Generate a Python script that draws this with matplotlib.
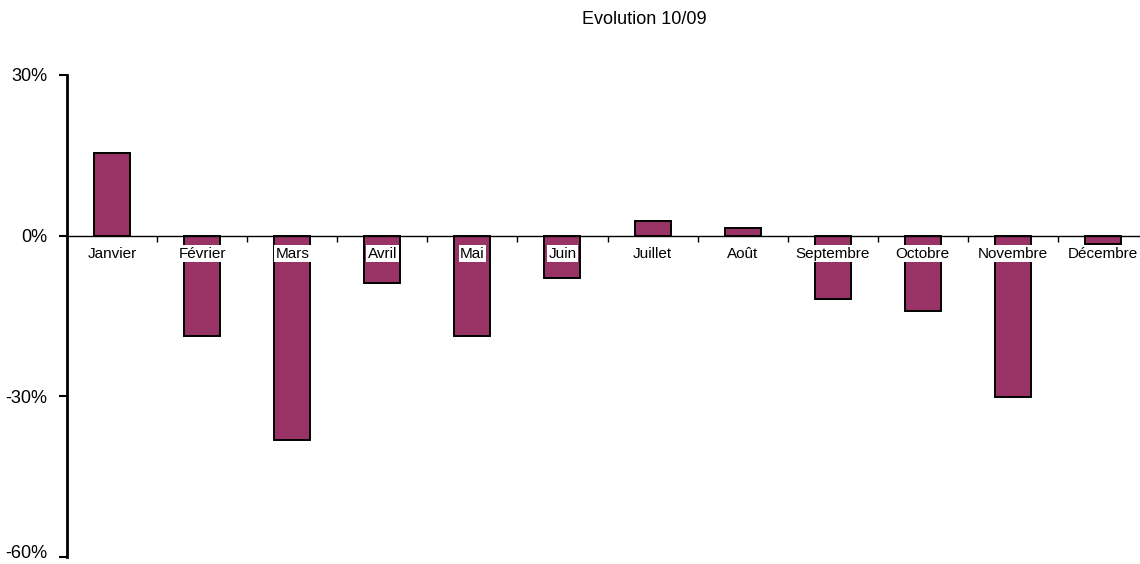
import matplotlib
matplotlib.use("Agg")
import matplotlib.pyplot as plt
import matplotlib.transforms as mtransforms
from matplotlib.ticker import FixedLocator, PercentFormatter

# ── Data ──────────────────────────────────────────────────────────────────────

months = ["Janvier", "Février", "Mars", "Avril", "Mai", "Juin",
          "Juillet", "Août", "Septembre", "Octobre", "Novembre", "Décembre"]
evolution = [15.4, -18.7, -38.1, -8.9, -18.7, -7.9,
             2.8, 1.4, -11.8, -14.0, -30.2, -1.5]
y_ticks = [30, 0, -30, -60]

BAR_COLOR = "#993366"

plt.rcParams["font.family"] = ["Liberation Sans", "DejaVu Sans"]
plt.rcParams["axes.unicode_minus"] = False

# ── Plot ──────────────────────────────────────────────────────────────────────

W, H = 1140, 564
fig = plt.figure(figsize=(W / 100, H / 100), dpi=100)
left, right = 67 / W, 1148 / W
top, bottom = 1 - 75 / H, 1 - 557 / H
ax = fig.add_axes([left, bottom, right - left, top - bottom])

x = list(range(len(months)))
ax.bar(x, evolution, width=0.40, color=BAR_COLOR,
       edgecolor="black", linewidth=1.4, zorder=2)

ax.set_xlim(-0.5, len(months) - 0.5)
ax.set_ylim(-60, 30)

# y axis
ax.yaxis.set_major_locator(FixedLocator(y_ticks))
ax.yaxis.set_major_formatter(PercentFormatter(decimals=0))
ax.tick_params(axis="y", direction="out", length=6, width=1.5,
               labelsize=13, pad=8)
ax.spines["left"].set_linewidth(2)

# keep the lowest label inside the picture
fig.canvas.draw()
lowest = ax.get_yticklabels()[-1]
lowest.set_transform(lowest.get_transform() +
                     mtransforms.ScaledTranslation(0, 4 / 72, fig.dpi_scale_trans))

# x axis sits on the zero line, ticks between categories
ax.spines["bottom"].set_position(("data", 0))
ax.spines["bottom"].set_linewidth(1)
for side in ("top", "right"):
    ax.spines[side].set_visible(False)
ax.xaxis.set_major_locator(FixedLocator([i + 0.5 for i in x[:-1]]))
ax.tick_params(axis="x", direction="out", length=4, width=1,
               labelbottom=False)

# category labels with white boxes over the bars
for xi, label in zip(x, months):
    ax.annotate(label, xy=(xi, 0), xytext=(0, -18),
                textcoords="offset pixels",
                ha="center", va="center", fontsize=11, zorder=3,
                bbox=dict(boxstyle="square,pad=0.1", facecolor="white",
                          edgecolor="none"))

fig.text(644 / W, 1 - 20 / H, "Evolution 10/09", ha="center", va="center",
         fontsize=13)

fig.savefig("out.png", dpi=100)
plt.close(fig)
